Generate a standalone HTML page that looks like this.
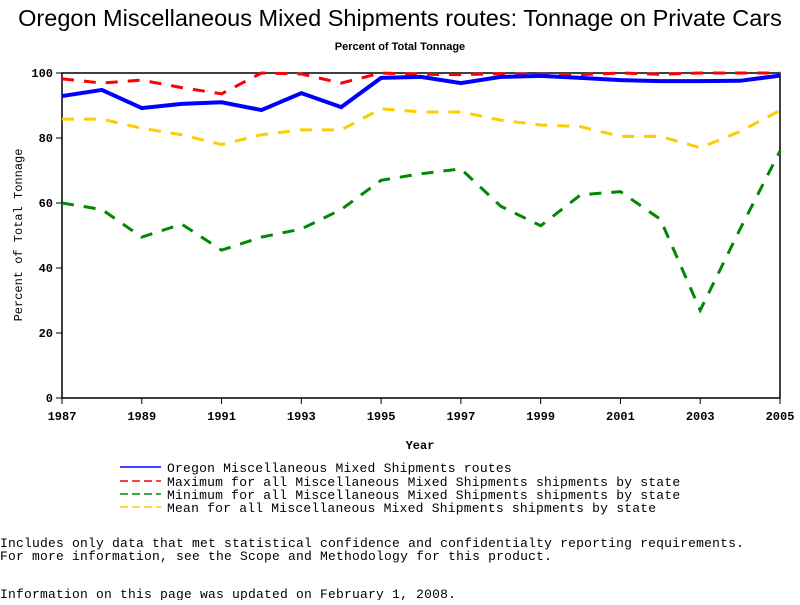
<!DOCTYPE html>
<html><head><meta charset="utf-8"><style>
body{margin:0;background:#fff;width:800px;height:600px;overflow:hidden}
svg text{font-family:"Liberation Mono",monospace;fill:#000}
</style></head><body>
<svg width="800" height="600">
<text x="400" y="26" text-anchor="middle" style="font-family:'Liberation Sans',sans-serif;font-size:23.5px">Oregon Miscellaneous Mixed Shipments routes: Tonnage on Private Cars</text>
<text x="400" y="50" text-anchor="middle" style="font-family:'Liberation Sans',sans-serif;font-size:11px;font-weight:bold">Percent of Total Tonnage</text>
<g id="plot"></g>
<text x="420" y="449" text-anchor="middle" font-size="12" font-weight="bold">Year</text>
<text transform="translate(22,235) rotate(-90)" text-anchor="middle" font-size="12">Percent of Total Tonnage</text>
<g font-size="13" letter-spacing="0.22">
<line x1="120" y1="467" x2="161" y2="467" stroke="#00f" stroke-width="1.5"/><text x="167" y="472">Oregon Miscellaneous Mixed Shipments routes</text>
<line x1="120" y1="481" x2="161" y2="481" stroke="#f00" stroke-width="1.5" stroke-dasharray="8,4"/><text x="167" y="486">Maximum for all Miscellaneous Mixed Shipments shipments by state</text>
<line x1="120" y1="494" x2="161" y2="494" stroke="#080" stroke-width="1.5" stroke-dasharray="8,4"/><text x="167" y="499">Minimum for all Miscellaneous Mixed Shipments shipments by state</text>
<line x1="120" y1="507" x2="161" y2="507" stroke="#fc0" stroke-width="1.5" stroke-dasharray="8,4"/><text x="167" y="512">Mean for all Miscellaneous Mixed Shipments shipments by state</text>
</g>
<g font-size="13" letter-spacing="0.2">
<text x="0" y="547">Includes only data that met statistical confidence and confidentialty reporting requirements.</text>
<text x="0" y="560">For more information, see the Scope and Methodology for this product.</text>
<text x="0" y="598">Information on this page was updated on February 1, 2008.</text>
</g>
</svg>
<script>
const years=[1987,1988,1989,1990,1991,1992,1993,1994,1995,1996,1997,1998,1999,2000,2001,2002,2003,2004,2005];
const oregon=[92.9,94.8,89.2,90.5,91,88.6,93.8,89.5,98.5,98.8,96.9,98.8,99.1,98.5,97.8,97.5,97.5,97.6,99.2];
const maxV=[98.2,96.9,97.8,95.5,93.6,100,99.7,96.9,100,99.6,99.5,99.8,99.6,99.5,100,99.6,100,100,100];
const minV=[60,58,49.5,53.5,45.5,49.5,52,58,67,69,70.5,59,53,62.5,63.5,55,27,52,76];
const meanV=[85.8,85.8,83,81,78,81,82.5,82.5,89,88,88,85.5,84,83.5,80.5,80.5,77,82,88.5];
const yTicks=[0,20,40,60,80,100];
const xTicks=[1987,1989,1991,1993,1995,1997,1999,2001,2003,2005];
const X0=62,X1=780,Y0=398,Y1=73;
const xs=v=>X0+(v-1987)/(2005-1987)*(X1-X0);
const ys=v=>Y0-v/100*(Y0-Y1);
const NS="http://www.w3.org/2000/svg";
const g=document.getElementById('plot');
function mk(t,a){const e=document.createElementNS(NS,t);for(const k in a)e.setAttribute(k,a[k]);g.appendChild(e);return e;}
const frame=mk('rect',{x:X0,y:Y1,width:X1-X0,height:Y0-Y1,fill:'none',stroke:'#000','stroke-width':1.5});


yTicks.forEach(v=>{
  mk('line',{x1:X0-6,x2:X0,y1:ys(v),y2:ys(v),stroke:'#000'});
  const t=mk('text',{x:X0-9,y:ys(v)+4,'text-anchor':'end','font-size':12,'font-weight':'bold'});t.textContent=v;
  
  
});
xTicks.forEach(v=>{
  mk('line',{x1:xs(v),x2:xs(v),y1:Y0,y2:Y0+6,stroke:'#000'});
  const t=mk('text',{x:xs(v),y:Y0+22,'text-anchor':'middle','font-size':12,'font-weight':'bold'});t.textContent=v;
  
  
});
function series(vals,color,w,dash,name){
  const p=mk('polyline',{points:vals.map((v,i)=>xs(years[i])+','+ys(v)).join(' '),fill:'none',stroke:color,'stroke-width':w,'stroke-dasharray':dash});
  
  
}
series(meanV,'#fc0',3,'12,10','mean-line');
series(minV,'#080',3,'12,10','minimum-line');
series(maxV,'#f00',3,'12,10','maximum-line');
series(oregon,'#00f',4,'none','oregon-line');
</script>
</body></html>
